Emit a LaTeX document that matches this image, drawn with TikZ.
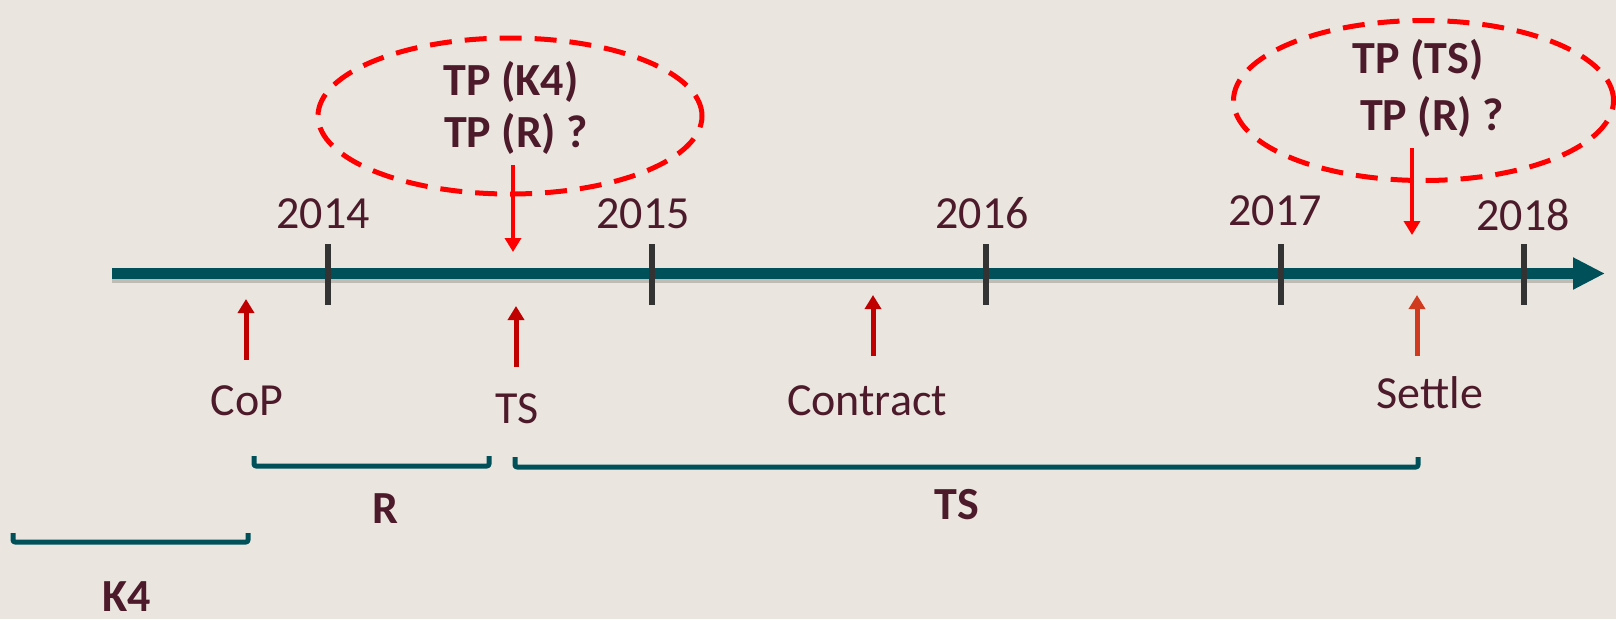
\documentclass[tikz,border=0pt]{standalone}
\usepackage{fontspec}
\setmainfont{Carlito}
\usetikzlibrary{arrows.meta,shapes.geometric}
\definecolor{bg}{RGB}{234,230,223}
\definecolor{teal}{RGB}{0,80,90}
\definecolor{txt}{RGB}{76,26,42}
\definecolor{tickc}{RGB}{51,51,51}
\definecolor{evred}{RGB}{192,0,0}
\definecolor{setred}{RGB}{208,58,30}
\definecolor{hired}{RGB}{255,0,0}
\tikzset{
  lbl/.style={anchor=base,text=txt,inner sep=0pt,font=\fontsize{46}{52}\selectfont},
  blbl/.style={lbl,font=\fontsize{46}{52}\selectfont\bfseries},
  yeartick/.style={draw=tickc,line width=5.5pt},
  evarrow/.style={draw=evred,line width=5pt,-{Triangle[width=16pt,length=14pt]}},
  downarrow/.style={draw=hired,line width=4.5pt,-{Triangle[width=16pt,length=14pt]}},
  dashell/.style={ellipse,draw=hired,line width=5pt,dash pattern=on 22pt off 13pt,inner sep=0pt},
  bracketline/.style={draw=teal,line width=5pt,line join=round,rounded corners=2pt},
  shadowc/.style={draw=black,opacity=0.18}
}
\begin{document}
\begin{tikzpicture}[x=1pt,y=-1pt]
\fill[bg] (0,0) rectangle (1616,619);
\useasboundingbox (0,0) rectangle (1616,619);
% timeline
\coordinate (tl0) at (112,273.5);
\coordinate (tl1) at (1605,273.5);
\draw[shadowc,line width=11pt] (112,277) -- (1575,277);
\draw[draw=teal,line width=11pt,-{Triangle[width=30pt,length=32pt]}] (tl0) -- (tl1);
% ticks
\foreach \n/\x in {a/328,b/652,c/986,d/1281,e/1524}{
  \coordinate (\n top) at (\x,244);
  \coordinate (\n bot) at (\x,305);
  \draw[yeartick] (\n top) -- (\n bot);
}
% years
\node[lbl] (y2014) at (323,228) {2014};
\node[lbl] (y2015) at (643,228) {2015};
\node[lbl] (y2016) at (982,228) {2016};
\node[lbl] (y2017) at (1275,225) {2017};
\node[lbl] (y2018) at (1523,230) {2018};
% ellipses
\node[dashell,minimum width=384pt,minimum height=156pt] (ell1) at (510,116) {};
\node[dashell,minimum width=380pt,minimum height=160pt] (ell2) at (1423.5,100.5) {};
\node[blbl] (tpk4) at (511,95) {TP (K4)};
\node[blbl] (tpr1) at (516,147) {TP (R) ?};
\node[blbl] (tpts) at (1418,73) {TP (TS)};
\node[blbl] (tpr2) at (1432,130) {TP (R) ?};
% down arrows
\coordinate (d1s) at (513,165);
\coordinate (d1e) at (513,252);
\coordinate (d2s) at (1412,148);
\coordinate (d2e) at (1412,235);
\draw[downarrow] (d1s) -- (d1e);
\draw[downarrow] (d2s) -- (d2e);
% event arrows
\coordinate (cops) at (246,360); \coordinate (cope) at (246,299);
\coordinate (tss) at (516,367); \coordinate (tse) at (516,306);
\coordinate (cons) at (873,356); \coordinate (cone) at (873,295);
\coordinate (sets) at (1417,356); \coordinate (sete) at (1417,295);
\draw[evarrow] (cops) -- (cope);
\draw[evarrow] (tss) -- (tse);
\draw[evarrow] (cons) -- (cone);
\draw[evarrow,draw=setred] (sets) -- (sete);
% event labels
\node[lbl] (cop) at (247,415) {CoP};
\node[lbl] (ts) at (517,423) {TS};
\node[lbl] (contract) at (867,415) {Contract};
\node[lbl] (settle) at (1430,408) {Settle};
% brackets
\coordinate (r0) at (254,456); \coordinate (r1) at (489,456);
\coordinate (s0) at (515,457); \coordinate (s1) at (1418,457);
\coordinate (k0) at (13,533); \coordinate (k1) at (248,533);
\draw[bracketline] (r0) -- ++(0,10) -| (r1);
\draw[bracketline] (s0) -- ++(0,10) -| (s1);
\draw[bracketline] (k0) -- ++(0,9) -| (k1);
\node[blbl] (rl) at (385,523) {R};
\node[blbl] (tsl) at (957,519) {TS};
\node[blbl] (k4l) at (127,611) {K4};
\end{tikzpicture}
\end{document}
